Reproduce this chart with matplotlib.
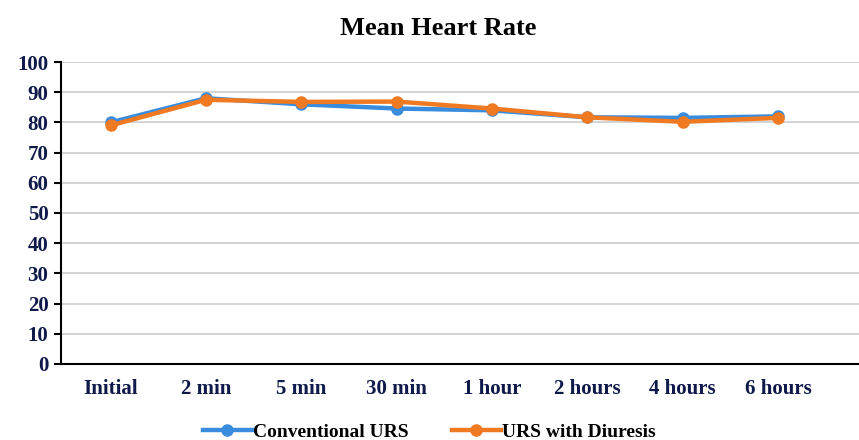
import numpy as np
import matplotlib.pyplot as plt

plt.rcParams['font.family'] = ['Liberation Serif', 'DejaVu Serif']

times = ["Initial", "2 min", "5 min", "30 min", "1 hour", "2 hours", "4 hours", "6 hours"]
conventional = [80, 88, 86, 84.6, 84, 81.7, 81.5, 82]
diuresis = [79, 87.5, 86.8, 86.9, 84.6, 81.7, 80.2, 81.5]

navy = "#0f1a4a"

fig = plt.figure(figsize=(8.59, 4.40), dpi=100)
ax = fig.add_axes([0.071, 0.173, 0.929, 0.686])

x = np.arange(len(times))
ax.plot(x, conventional, color="#3a8dde", lw=3.2, marker="o", ms=8,
        label="Conventional URS", zorder=3)
ax.plot(x, diuresis, color="#f07a22", lw=3.2, marker="o", ms=8,
        label="URS with Diuresis", zorder=4)

ax.set_ylim(0, 100)
ax.set_yticks(range(0, 101, 10))
ax.set_xlim(-0.52, 7.85)
ax.set_xticks(x)
ax.set_xticklabels(times)
ax.grid(axis="y", color="#cccccc", lw=1.2)
ax.set_axisbelow(True)

for s in ["top", "right"]:
    ax.spines[s].set_visible(False)
ax.spines["left"].set_linewidth(1.5)
ax.spines["bottom"].set_linewidth(1.5)
ax.tick_params(axis="y", length=5, width=1.5, labelsize=15, labelcolor=navy, pad=4)
ax.tick_params(axis="x", length=0, labelsize=15, labelcolor=navy, pad=11)
for lbl in ax.get_xticklabels() + ax.get_yticklabels():
    lbl.set_fontweight("bold")

fig.text(0.51, 0.935, "Mean Heart Rate", ha="center", va="center",
         fontsize=19, fontweight="bold", color="black")

leg = fig.legend(loc="center", bbox_to_anchor=(0.5, 0.018), ncol=2, frameon=False,
                 prop={"size": 14, "weight": "bold"}, handlelength=2.5,
                 columnspacing=2.2, handletextpad=0.1)

fig.savefig("out.png", dpi=100)
